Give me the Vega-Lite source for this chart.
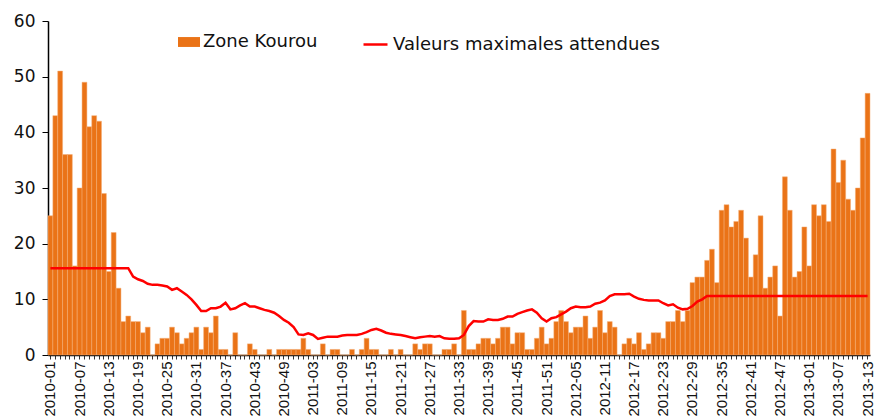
{
  "$schema": "https://vega.github.io/schema/vega-lite/v6.json",
  "width": 822,
  "height": 334,
  "autosize": "none",
  "padding": {"left": 48, "top": 21, "right": 5, "bottom": 62},
  "background": "white",
  "config": {"view": {"stroke": null}, "axis": {"grid": false}},
  "data": {"values": [
    {"w":"2010-01","n":25,"m":15.6},{"w":"2010-02","n":43,"m":15.6},{"w":"2010-03","n":51,"m":15.6},{"w":"2010-04","n":36,"m":15.6},
    {"w":"2010-05","n":36,"m":15.6},{"w":"2010-06","n":16,"m":15.6},{"w":"2010-07","n":30,"m":15.6},{"w":"2010-08","n":49,"m":15.6},
    {"w":"2010-09","n":41,"m":15.6},{"w":"2010-10","n":43,"m":15.6},{"w":"2010-11","n":42,"m":15.6},{"w":"2010-12","n":29,"m":15.6},
    {"w":"2010-13","n":15,"m":15.6},{"w":"2010-14","n":22,"m":15.6},{"w":"2010-15","n":12,"m":15.6},{"w":"2010-16","n":6,"m":15.6},
    {"w":"2010-17","n":7,"m":15.6},{"w":"2010-18","n":6,"m":14.1},{"w":"2010-19","n":6,"m":13.6},{"w":"2010-20","n":4,"m":13.3},
    {"w":"2010-21","n":5,"m":12.8},{"w":"2010-22","n":0,"m":12.6},{"w":"2010-23","n":2,"m":12.6},{"w":"2010-24","n":3,"m":12.5},
    {"w":"2010-25","n":3,"m":12.3},{"w":"2010-26","n":5,"m":11.7},{"w":"2010-27","n":4,"m":12.0},{"w":"2010-28","n":2,"m":11.4},
    {"w":"2010-29","n":3,"m":10.8},{"w":"2010-30","n":4,"m":10.0},{"w":"2010-31","n":5,"m":9.0},{"w":"2010-32","n":1,"m":7.9},
    {"w":"2010-33","n":5,"m":7.9},{"w":"2010-34","n":4,"m":8.4},{"w":"2010-35","n":7,"m":8.4},{"w":"2010-36","n":1,"m":8.7},
    {"w":"2010-37","n":1,"m":9.4},{"w":"2010-38","n":0,"m":8.2},{"w":"2010-39","n":4,"m":8.4},{"w":"2010-40","n":0,"m":8.9},
    {"w":"2010-41","n":0,"m":9.3},{"w":"2010-42","n":2,"m":8.7},{"w":"2010-43","n":1,"m":8.7},{"w":"2010-44","n":0,"m":8.4},
    {"w":"2010-45","n":0,"m":8.1},{"w":"2010-46","n":1,"m":7.9},{"w":"2010-47","n":0,"m":7.6},{"w":"2010-48","n":1,"m":7.0},
    {"w":"2010-49","n":1,"m":6.3},{"w":"2010-50","n":1,"m":5.8},{"w":"2010-51","n":1,"m":5.0},{"w":"2010-52","n":1,"m":3.7},
    {"w":"2011-01","n":3,"m":3.6},{"w":"2011-02","n":1,"m":3.9},{"w":"2011-03","n":0,"m":3.6},{"w":"2011-04","n":0,"m":2.9},
    {"w":"2011-05","n":2,"m":3.1},{"w":"2011-06","n":0,"m":3.3},{"w":"2011-07","n":1,"m":3.3},{"w":"2011-08","n":1,"m":3.3},
    {"w":"2011-09","n":0,"m":3.5},{"w":"2011-10","n":0,"m":3.6},{"w":"2011-11","n":1,"m":3.6},{"w":"2011-12","n":0,"m":3.6},
    {"w":"2011-13","n":1,"m":3.8},{"w":"2011-14","n":3,"m":4.1},{"w":"2011-15","n":1,"m":4.5},{"w":"2011-16","n":1,"m":4.7},
    {"w":"2011-17","n":0,"m":4.4},{"w":"2011-18","n":0,"m":4.0},{"w":"2011-19","n":1,"m":3.8},{"w":"2011-20","n":0,"m":3.7},
    {"w":"2011-21","n":1,"m":3.6},{"w":"2011-22","n":0,"m":3.4},{"w":"2011-23","n":0,"m":3.2},{"w":"2011-24","n":2,"m":3.0},
    {"w":"2011-25","n":1,"m":3.2},{"w":"2011-26","n":2,"m":3.3},{"w":"2011-27","n":2,"m":3.4},{"w":"2011-28","n":0,"m":3.3},
    {"w":"2011-29","n":0,"m":3.4},{"w":"2011-30","n":1,"m":3.0},{"w":"2011-31","n":1,"m":2.9},{"w":"2011-32","n":2,"m":2.9},
    {"w":"2011-33","n":0,"m":3.0},{"w":"2011-34","n":8,"m":3.6},{"w":"2011-35","n":1,"m":5.2},{"w":"2011-36","n":1,"m":6.1},
    {"w":"2011-37","n":2,"m":6.0},{"w":"2011-38","n":3,"m":6.0},{"w":"2011-39","n":3,"m":6.4},{"w":"2011-40","n":2,"m":6.3},
    {"w":"2011-41","n":3,"m":6.3},{"w":"2011-42","n":5,"m":6.5},{"w":"2011-43","n":5,"m":6.9},{"w":"2011-44","n":2,"m":6.9},
    {"w":"2011-45","n":4,"m":7.4},{"w":"2011-46","n":4,"m":7.7},{"w":"2011-47","n":1,"m":8.0},{"w":"2011-48","n":1,"m":8.2},
    {"w":"2011-49","n":3,"m":7.6},{"w":"2011-50","n":5,"m":6.6},{"w":"2011-51","n":2,"m":6.0},{"w":"2011-52","n":3,"m":6.6},
    {"w":"2012-01","n":6,"m":6.8},{"w":"2012-02","n":8,"m":7.3},{"w":"2012-03","n":6,"m":7.8},{"w":"2012-04","n":4,"m":8.4},
    {"w":"2012-05","n":5,"m":8.7},{"w":"2012-06","n":5,"m":8.6},{"w":"2012-07","n":7,"m":8.6},{"w":"2012-08","n":3,"m":8.7},
    {"w":"2012-09","n":5,"m":9.2},{"w":"2012-10","n":8,"m":9.4},{"w":"2012-11","n":4,"m":9.8},{"w":"2012-12","n":6,"m":10.6},
    {"w":"2012-13","n":5,"m":10.9},{"w":"2012-14","n":0,"m":10.9},{"w":"2012-15","n":2,"m":10.9},{"w":"2012-16","n":3,"m":11.0},
    {"w":"2012-17","n":2,"m":10.5},{"w":"2012-18","n":4,"m":10.1},{"w":"2012-19","n":1,"m":9.9},{"w":"2012-20","n":2,"m":9.8},
    {"w":"2012-21","n":4,"m":9.8},{"w":"2012-22","n":4,"m":9.8},{"w":"2012-23","n":3,"m":9.3},{"w":"2012-24","n":6,"m":8.9},
    {"w":"2012-25","n":6,"m":9.1},{"w":"2012-26","n":8,"m":8.5},{"w":"2012-27","n":6,"m":8.2},{"w":"2012-28","n":8,"m":8.3},
    {"w":"2012-29","n":13,"m":8.8},{"w":"2012-30","n":14,"m":9.6},{"w":"2012-31","n":14,"m":10.0},{"w":"2012-32","n":17,"m":10.6},
    {"w":"2012-33","n":19,"m":10.6},{"w":"2012-34","n":13,"m":10.6},{"w":"2012-35","n":26,"m":10.6},{"w":"2012-36","n":27,"m":10.6},
    {"w":"2012-37","n":23,"m":10.6},{"w":"2012-38","n":24,"m":10.6},{"w":"2012-39","n":26,"m":10.6},{"w":"2012-40","n":21,"m":10.6},
    {"w":"2012-41","n":14,"m":10.6},{"w":"2012-42","n":18,"m":10.6},{"w":"2012-43","n":25,"m":10.6},{"w":"2012-44","n":12,"m":10.6},
    {"w":"2012-45","n":14,"m":10.6},{"w":"2012-46","n":16,"m":10.6},{"w":"2012-47","n":7,"m":10.6},{"w":"2012-48","n":32,"m":10.6},
    {"w":"2012-49","n":26,"m":10.6},{"w":"2012-50","n":14,"m":10.6},{"w":"2012-51","n":15,"m":10.6},{"w":"2012-52","n":23,"m":10.6},
    {"w":"2013-01","n":16,"m":10.6},{"w":"2013-02","n":27,"m":10.6},{"w":"2013-03","n":25,"m":10.6},{"w":"2013-04","n":27,"m":10.6},
    {"w":"2013-05","n":24,"m":10.6},{"w":"2013-06","n":37,"m":10.6},{"w":"2013-07","n":31,"m":10.6},{"w":"2013-08","n":35,"m":10.6},
    {"w":"2013-09","n":28,"m":10.6},{"w":"2013-10","n":26,"m":10.6},{"w":"2013-11","n":30,"m":10.6},{"w":"2013-12","n":39,"m":10.6},
    {"w":"2013-13","n":47,"m":10.6}
  ]},
  "encoding": {
    "x": {
      "field": "w", "type": "ordinal", "sort": null,
      "scale": {"paddingInner": 0, "paddingOuter": 0},
      "axis": {
        "title": null,
        "labelAngle": 270,
        "labelExpr": "indexof(['2010-01','2010-07','2010-13','2010-19','2010-25','2010-31','2010-37','2010-43','2010-49','2011-03','2011-09','2011-15','2011-21','2011-27','2011-33','2011-39','2011-45','2011-51','2012-05','2012-11','2012-17','2012-23','2012-29','2012-35','2012-41','2012-47','2013-01','2013-07','2013-13'], datum.value) >= 0 ? datum.value : ''",
        "labelOverlap": false,
        "labelFont": "Liberation Sans",
        "labelFontSize": 15,
        "labelColor": "#111111",
        "labelPadding": 2,
        "tickSize": 4,
        "tickColor": "#333333",
        "tickWidth": 1,
        "domainColor": "#000000",
        "domainWidth": 1.5
      }
    }
  },
  "layer": [
    {
      "mark": {"type": "bar", "stroke": "#F4AE76", "strokeWidth": 0.5},
      "encoding": {
        "y": {
          "field": "n", "type": "quantitative",
          "scale": {"domain": [0, 60]},
          "axis": {
            "title": null,
            "values": [0, 10, 20, 30, 40, 50, 60],
            "tickSize": 6,
            "labelPadding": 7,
            "labelFont": "DejaVu Sans",
            "labelFontSize": 17,
            "labelColor": "#111111",
            "tickColor": "#000000",
            "domainColor": "#000000",
            "domainWidth": 1.5
          }
        },
        "fill": {
          "datum": "Zone Kourou", "type": "nominal",
          "scale": {"range": ["#EA7317"]},
          "legend": {
            "title": null, "orient": "none", "legendX": 130, "legendY": 10, "padding": 0,
            "symbolType": "M-1,-0.45H1V0.45H-1Z", "symbolSize": 484, "symbolStrokeWidth": 0,
            "labelFont": "DejaVu Sans", "labelFontSize": 18, "labelColor": "#111111",
            "labelOffset": 3, "labelLimit": 400
          }
        }
      }
    },
    {
      "mark": {"type": "line", "strokeWidth": 2.5},
      "encoding": {
        "y": {"field": "m", "type": "quantitative"},
        "stroke": {
          "datum": "Valeurs maximales attendues", "type": "nominal",
          "scale": {"range": ["#FF0000"]},
          "legend": {
            "title": null, "orient": "none", "legendX": 314, "legendY": 10, "padding": 0,
            "symbolType": "stroke", "symbolSize": 576, "symbolStrokeWidth": 2.5,
            "labelFont": "DejaVu Sans", "labelFontSize": 18, "labelColor": "#111111",
            "labelOffset": 4, "labelLimit": 400
          }
        }
      }
    }
  ]
}
